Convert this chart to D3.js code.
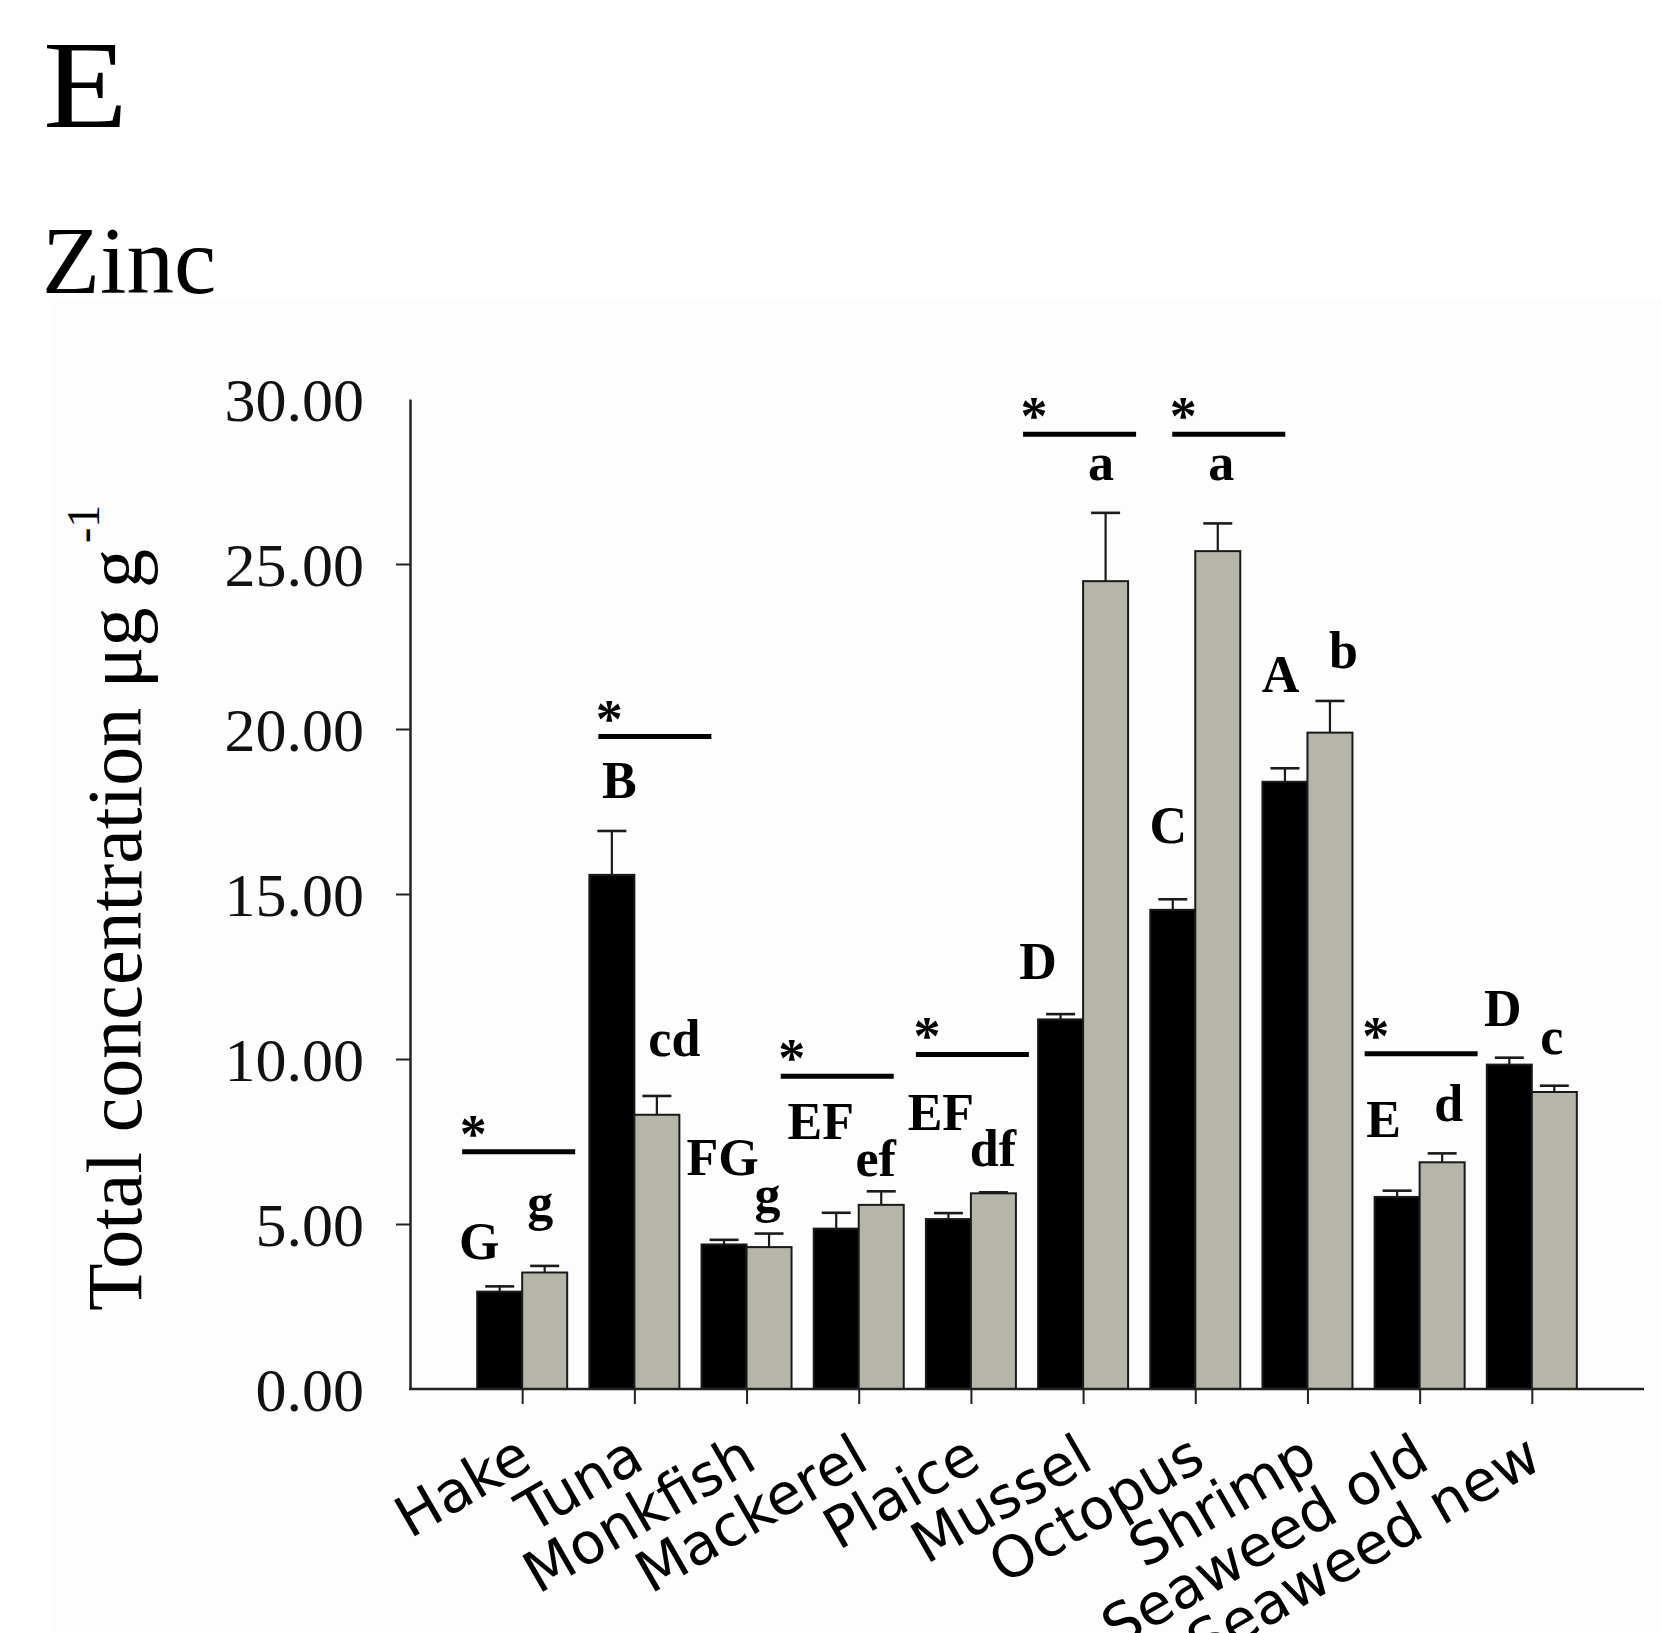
<!DOCTYPE html>
<html>
<head>
<meta charset="utf-8">
<script src="https://cdn.jsdelivr.net/npm/d3@7"></script>
<style>
  html, body { margin: 0; padding: 0; background: #ffffff; }
  svg { display: block; }
</style>
</head>
<body>
<svg id="chart" width="1662" height="1633"></svg>
<script>
// Zinc: total concentration (µg g-1) per sample type, two groups per category
const categories = ["Hake", "Tuna", "Monkfish", "Mackerel", "Plaice", "Mussel", "Octopus", "Shrimp", "Seaweed old", "Seaweed new"];

const darkMeans  = [2.95, 15.58, 4.38, 4.86, 5.15, 11.20, 14.52, 18.40, 5.82, 9.83];
const darkErrors = [0.16, 1.33, 0.14, 0.48, 0.18, 0.16, 0.32, 0.41, 0.19, 0.21];
const lightMeans  = [3.53, 8.31, 4.30, 5.58, 5.93, 24.48, 25.39, 19.89, 6.87, 9.00];
const lightErrors = [0.20, 0.57, 0.41, 0.41, 0.03, 2.07, 0.84, 0.96, 0.27, 0.19];

// group letters (post-hoc) for each bar and the level (in µg g-1) of their baseline
const darkLetters  = ["G", "B", "FG", "EF", "EF", "D", "C", "A", "E", "D"];
const lightLetters = ["g", "cd", "g", "ef", "df", "a", "a", "b", "d", "c"];
const darkLetterLevel  = [3.94, 17.91, 6.47, 7.59, 7.85, 12.42, 16.54, 21.13, 7.64, 11.00];
const lightLetterLevel = [5.12, 10.10, 5.36, 6.45, 6.75, 27.55, 27.55, 21.84, 8.12, 10.16];

// significant differences between the two groups (*), drawn at these levels
const sigCategories = ["Hake", "Tuna", "Mackerel", "Plaice", "Mussel", "Octopus", "Seaweed old"];
const sigLevel = [7.19, 19.77, 9.48, 10.14, 28.93, 28.93, 10.16];

const yTicks = [0, 5, 10, 15, 20, 25, 30];

// layout: horizontal nudges (px) of annotations relative to each category tick
const darkLetterDx  = [-43, -15, -24, -38, -30, -45, -27, -27, -36, -29];
const lightLetterDx = [18, 40, 21, 17, 22, 18, 26, 36, 29, 20];
const sigDx = [-60, -36, -78, -55, -60, -23, -55];

const serif = "'Liberation Serif', 'Times New Roman', serif";
const sans = "'DejaVu Sans', Verdana, sans-serif";

const svg = d3.select("#chart");

// very faint plot backdrop
svg.append("rect")
  .attr("x", 52).attr("y", 300).attr("width", 1610).attr("height", 1333)
  .attr("fill", "#fdfdfd");

// panel letter and element name
svg.append("text")
  .attr("transform", "translate(43,127) scale(1.1,1)")
  .attr("font-family", serif).attr("font-size", 126).attr("fill", "#000")
  .text("E");
svg.append("text").attr("x", 42).attr("y", 293)
  .attr("font-family", serif).attr("font-size", 95).attr("fill", "#000")
  .text("Zinc");

const x0 = 410, x1 = 1644, yBase = 1389, yTop = 399;

const x = d3.scalePoint().domain(categories).range([x0, x1]).padding(1);
const y = d3.scaleLinear().domain([0, 30]).range([yBase, yTop]);
const sub = d3.scaleBand().domain([0, 1]).range([-45, 45]);

// y axis
const yAxis = d3.axisLeft(y).tickValues(yTicks).tickFormat(d3.format(".2f"))
  .tickSizeInner(14).tickSizeOuter(0).tickPadding(32);
const gy = svg.append("g").attr("transform", `translate(${x0},0)`).call(yAxis);
gy.select(".domain").attr("stroke", "#222").attr("stroke-width", 2.5);
gy.selectAll(".tick line").attr("stroke", "#222").attr("stroke-width", 2)
  .filter(d => d === 0 || d === 30).remove();
gy.selectAll(".tick text").attr("font-family", serif).attr("font-size", 62)
  .attr("fill", "#111").attr("dy", "0.34em");

// y axis title
const yt = svg.append("text")
  .attr("transform", "translate(141,1311) rotate(-90)")
  .attr("font-family", serif).attr("font-size", 78).attr("fill", "#000");
yt.append("tspan").text("Total concentration \u03bcg g");
yt.append("tspan").attr("font-size", 46).attr("dy", -42).attr("dx", 6).text("-1");

// bars
const rows = categories.map((c, i) => ({
  c, i,
  groups: [
    { k: 0, v: darkMeans[i], e: darkErrors[i] },
    { k: 1, v: lightMeans[i], e: lightErrors[i] }
  ]
}));

const gBars = svg.append("g");
const cat = gBars.selectAll("g.cat").data(rows).join("g")
  .attr("class", "cat")
  .attr("transform", d => `translate(${x(d.c)},0)`);

cat.selectAll("rect").data(d => d.groups).join("rect")
  .attr("x", d => sub(d.k))
  .attr("width", sub.bandwidth())
  .attr("y", d => y(d.v))
  .attr("height", d => yBase - y(d.v))
  .attr("fill", d => d.k === 0 ? "#000000" : "#b5b5a9")
  .attr("stroke", "#1a1a1a").attr("stroke-width", 2);

// error bars (upper only)
const capHalf = 14.5;
cat.selectAll("g.err").data(d => d.groups).join("g")
  .attr("class", "err")
  .each(function (d) {
    const cx = sub(d.k) + sub.bandwidth() / 2;
    const g = d3.select(this);
    g.append("line").attr("x1", cx).attr("x2", cx)
      .attr("y1", y(d.v)).attr("y2", y(d.v + d.e))
      .attr("stroke", "#1a1a1a").attr("stroke-width", 2.2);
    g.append("line").attr("x1", cx - capHalf).attr("x2", cx + capHalf)
      .attr("y1", y(d.v + d.e)).attr("y2", y(d.v + d.e))
      .attr("stroke", "#1a1a1a").attr("stroke-width", 2.6);
  });

// x axis
const xAxis = d3.axisBottom(x).tickSizeInner(15).tickSizeOuter(0);
const gx = svg.append("g").attr("transform", `translate(0,${yBase})`).call(xAxis);
gx.select(".domain").attr("stroke", "#222").attr("stroke-width", 2.5)
  .attr("d", `M${x0 - 1},0H${x1}`);
gx.selectAll(".tick line").attr("stroke", "#222").attr("stroke-width", 2);
gx.selectAll(".tick text")
  .attr("font-family", sans).attr("font-size", 57).attr("fill", "#000")
  .attr("text-anchor", "end")
  .attr("x", 0).attr("y", 0).attr("dy", 0)
  .attr("transform", "translate(12,78) rotate(-30)");

// group letters
const gLetters = svg.append("g")
  .attr("font-family", serif).attr("font-weight", "bold")
  .attr("font-size", 52).attr("fill", "#000").attr("text-anchor", "middle");
gLetters.selectAll("text.dark").data(categories).join("text")
  .attr("class", "dark")
  .attr("x", (c, i) => x(c) + darkLetterDx[i])
  .attr("y", (c, i) => y(darkLetterLevel[i]))
  .text((c, i) => darkLetters[i]);
gLetters.selectAll("text.light").data(categories).join("text")
  .attr("class", "light")
  .attr("x", (c, i) => x(c) + lightLetterDx[i])
  .attr("y", (c, i) => y(lightLetterLevel[i]))
  .text((c, i) => lightLetters[i]);

// significance markers
const sigLen = 113;
const gSig = svg.append("g");
sigCategories.forEach((c, i) => {
  const left = x(c) + sigDx[i];
  const ly = y(sigLevel[i]);
  gSig.append("line")
    .attr("x1", left).attr("x2", left + sigLen)
    .attr("y1", ly).attr("y2", ly)
    .attr("stroke", "#000").attr("stroke-width", 5);
  gSig.append("text")
    .attr("x", left + 11).attr("y", ly)
    .attr("text-anchor", "middle")
    .attr("font-family", serif).attr("font-weight", "bold")
    .attr("font-size", 54).attr("fill", "#000")
    .text("*");
});
</script>
</body>
</html>
